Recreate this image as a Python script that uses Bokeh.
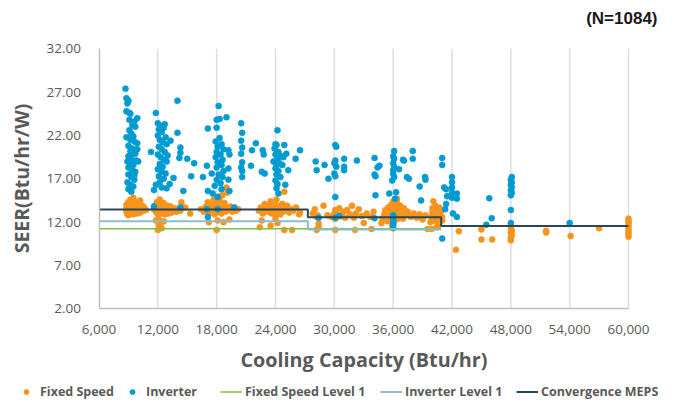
from bokeh.plotting import figure
from bokeh.models import (Legend, LegendItem, Label, LinearAxis, Grid, FixedTicker,
                          NumeralTickFormatter, PrintfTickFormatter, Range1d)
from bokeh.embed import file_html
from bokeh.resources import INLINE

FONT = "Open Sans"
TEXT = "#595959"
ORANGE = "#F7941D"
BLUE = "#009BD2"

x_ticks = [6000, 12000, 18000, 24000, 30000, 36000, 42000, 48000, 54000, 60000]
y_ticks = [2, 7, 12, 17, 22, 27, 32]

# ---- Fixed Speed (capacity Btu/hr, SEER) ----
fixed_9k = [(8800, 13.2), (8800, 13.6), (8800, 14.0), (8900, 12.9), (9000, 13.4), (9000, 13.8), (9000, 14.3),
            (9100, 13.1), (9200, 13.5), (9200, 13.9), (9200, 14.6), (9300, 13.0), (9400, 13.3), (9400, 13.7),
            (9400, 14.1), (9500, 12.9), (9600, 13.5), (9600, 13.9), (9600, 14.4), (9700, 13.2), (9800, 13.6),
            (9800, 14.0), (9900, 13.0), (10000, 13.4), (10000, 13.8), (10100, 14.2), (10200, 13.1), (10300, 13.5),
            (10400, 13.9), (10500, 13.3), (10600, 13.7), (10800, 13.4), (9000, 12.8), (9500, 14.8), (10200, 14.5)]
fixed_12k = [(11600, 13.5), (11700, 13.9), (11800, 13.2), (11900, 14.3), (12000, 12.9), (12000, 13.6), (12000, 14.0),
             (12100, 13.3), (12200, 14.6), (12300, 13.0), (12400, 13.5), (12400, 13.9), (12500, 13.2), (12600, 14.2),
             (12700, 12.9), (12800, 13.6), (12900, 13.3), (13000, 13.9), (13100, 13.0), (13200, 13.5), (13300, 13.8),
             (13400, 13.1), (13500, 13.4), (13700, 13.6), (13900, 13.2), (14100, 13.5), (14300, 13.3), (14400, 14.3),
             (14800, 13.7), (15300, 13.0), (12100, 12.3), (12300, 11.9), (12100, 11.6), (12400, 11.3), (12000, 11.1),
             (12600, 12.1), (11800, 12.2)]
fixed_18k = [(16400, 13.5), (16700, 13.2), (16900, 13.8), (17100, 14.3), (17200, 13.0), (17400, 13.6), (17500, 14.0),
             (17600, 13.3), (17700, 14.6), (17800, 12.9), (17900, 13.7), (18000, 13.1), (18000, 13.5), (18000, 14.2),
             (18100, 13.9), (18200, 13.3), (18300, 14.5), (18400, 13.6), (18500, 13.0), (18600, 13.9), (18700, 13.4),
             (18800, 14.2), (18900, 13.2), (19000, 13.7), (19200, 13.4), (19400, 13.8), (19600, 13.2), (19800, 13.6),
             (20000, 13.3), (20200, 13.5), (19000, 16.0), (18600, 15.1), (19100, 15.4), (18300, 15.0), (17200, 12.0),
             (18100, 12.2), (18700, 12.0), (18000, 11.1), (19300, 12.3)]
fixed_24k = [(22300, 13.3), (22500, 13.7), (22700, 13.0), (22900, 14.1), (23000, 13.5), (23200, 13.2), (23400, 13.9),
             (23500, 14.4), (23600, 13.0), (23800, 13.6), (23900, 13.3), (24000, 12.8), (24000, 13.5), (24000, 14.0),
             (24100, 14.6), (24200, 13.2), (24300, 13.8), (24400, 13.4), (24500, 12.9), (24600, 13.6), (24700, 14.1),
             (24800, 13.2), (24900, 13.7), (25000, 13.4), (25200, 13.9), (25400, 13.1), (25600, 13.5), (25800, 13.3),
             (26100, 13.7), (26500, 13.1), (24900, 15.5), (22600, 12.2), (23500, 11.6), (22400, 11.4), (24900, 11.1),
             (25700, 11.1), (24000, 12.4), (24200, 11.9), (26400, 12.9)]
fixed_30k = [(27800, 13.0), (28000, 13.5), (28200, 12.6), (28300, 12.8), (28400, 11.8), (28400, 11.4), (28900, 13.9),
             (29300, 12.8), (29700, 12.6), (30000, 13.0), (30100, 13.4), (30100, 12.4), (30300, 12.9), (30500, 13.6),
             (30700, 12.7), (30900, 13.2), (31100, 12.5), (31300, 13.4), (31600, 12.9), (31800, 13.9), (32000, 12.5),
             (32200, 13.0), (32500, 13.5), (32800, 12.7), (33000, 11.9), (33300, 13.0), (33700, 12.6), (34000, 13.2),
             (30100, 11.1), (32100, 11.1), (28200, 11.1)]
fixed_36k = [(34900, 12.4), (35100, 12.9), (35200, 13.4), (35400, 12.1), (35500, 13.7), (35600, 12.6), (35700, 13.1),
             (35800, 14.0), (35900, 12.3), (36000, 12.8), (36000, 13.3), (36000, 13.8), (36000, 14.4), (36100, 12.0),
             (36200, 12.6), (36200, 13.1), (36300, 13.6), (36400, 14.2), (36500, 12.4), (36500, 12.9), (36600, 13.4),
             (36700, 13.9), (36800, 12.7), (36900, 13.2), (37000, 12.4), (37100, 13.6), (37300, 12.9), (36400, 14.7),
             (37500, 13.2), (37800, 12.6), (38100, 13.0), (38400, 12.5), (38700, 12.9), (39000, 12.3), (39300, 12.8),
             (39500, 11.2), (34800, 11.9), (35900, 11.6), (33800, 11.2)]
fixed_40k = [(39800, 12.0), (39900, 12.6), (40000, 13.1), (40000, 13.6), (40100, 12.3), (40200, 12.9), (40300, 13.4),
             (40300, 13.9), (40400, 12.1), (40500, 12.7), (40500, 13.2), (40600, 11.6), (40700, 12.4), (40700, 13.7),
             (40800, 12.9), (40900, 13.3), (41000, 12.2), (41000, 12.6), (40100, 14.4), (40400, 11.4), (39900, 11.2)]
fixed_big = [(42400, 8.8), (42700, 10.95), (45000, 11.15), (45000, 10.0), (46100, 10.0), (48000, 11.6), (48000, 11.3),
             (48100, 11.0), (48000, 10.8), (48100, 10.5), (48000, 10.2), (48000, 9.9), (51600, 11.0), (51600, 10.8),
             (54100, 10.4), (57000, 11.3), (60000, 12.4), (60000, 12.1), (60000, 11.8), (60000, 11.5), (60000, 11.2),
             (60000, 10.9), (60000, 10.6), (60000, 10.3)]

# ---- Inverter ----
inv_9k = [(8700, 27.4), (8800, 26.3), (9000, 26.0), (8900, 25.7), (8800, 24.8), (9100, 24.6), (9200, 24.5),
          (9900, 24.0), (9600, 23.6), (9400, 23.2), (9700, 23.0), (9100, 22.6), (9300, 22.2), (9500, 21.9),
          (9200, 21.5), (9600, 21.3), (9900, 21.1), (9000, 20.8), (9400, 20.5), (9200, 20.2), (9700, 19.9),
          (9000, 19.6), (9300, 19.3), (9800, 19.1), (9100, 18.9), (9500, 18.6), (9000, 18.3), (9400, 18.0),
          (9700, 17.8), (9000, 17.5), (9300, 17.2), (9600, 16.9), (8900, 16.6), (9200, 16.3), (9500, 16.1),
          (9000, 15.8), (9300, 15.5), (10000, 19.0), (9900, 20.4), (8800, 21.8), (9100, 23.8), (9500, 20.0),
          (8900, 19.0), (9600, 17.4), (9100, 16.0)]
inv_12k = [(11800, 24.6), (12000, 23.4), (12300, 23.1), (12100, 22.7), (12600, 22.9), (12400, 22.4), (12000, 22.0),
           (12800, 21.8), (12200, 21.5), (12500, 21.2), (12900, 21.0), (12100, 20.7), (12400, 20.4), (12700, 20.1),
           (11300, 20.1), (12000, 19.8), (12300, 19.5), (12600, 19.2), (12900, 19.0), (12200, 18.7), (12500, 18.4),
           (12000, 18.1), (12400, 17.8), (12800, 17.6), (12100, 17.3), (12600, 17.0), (12200, 16.6), (11800, 16.3),
           (12400, 16.0), (11600, 15.7), (12900, 15.9), (13200, 16.4), (13600, 17.1), (14000, 26.0), (14000, 22.3),
           (14300, 20.6), (14300, 20.0), (14200, 19.4), (15000, 19.3), (15700, 18.8), (15400, 17.3), (14600, 15.6),
           (11600, 13.8), (14300, 13.7), (13000, 19.7), (13300, 21.4), (12700, 23.3)]
inv_18k = [(18200, 25.4), (19000, 24.1), (18000, 23.8), (18300, 23.9), (17100, 22.8), (18000, 22.9), (18300, 21.7),
           (17900, 21.3), (18500, 21.0), (18100, 20.7), (18700, 20.4), (19200, 20.3), (18000, 20.1), (18400, 19.8),
           (19300, 19.8), (17900, 19.5), (18600, 19.2), (18100, 18.9), (17000, 18.5), (18500, 18.6), (19200, 18.2),
           (18000, 18.3), (18700, 17.9), (16600, 17.2), (17500, 17.6), (18200, 17.5), (18600, 17.2), (18000, 16.9),
           (19200, 16.9), (18400, 16.5), (17800, 16.2), (17100, 15.6), (17600, 15.3), (18500, 15.8), (19300, 15.6),
           (18100, 14.9), (17000, 13.5), (17100, 12.6), (18100, 13.5), (19800, 13.7), (20600, 17.2)]
inv_21k = [(20500, 23.4), (20600, 22.3), (20500, 21.4), (20600, 20.6), (20500, 19.9), (20600, 18.9), (20500, 18.3),
           (20600, 17.9), (21600, 20.3), (22000, 21.1), (21500, 18.5), (22700, 20.3), (22800, 19.8), (22600, 17.8),
           (22900, 17.6)]
inv_24k = [(24200, 22.6), (24000, 21.0), (24100, 20.9), (23900, 20.5), (24300, 20.1), (24000, 19.8), (24600, 19.6),
           (24200, 19.3), (24800, 19.5), (23800, 19.0), (24400, 18.8), (24100, 18.5), (24700, 18.6), (24000, 18.2),
           (24300, 17.9), (25300, 18.0), (24100, 17.5), (24500, 17.2), (24000, 16.8), (24200, 16.4), (25000, 16.3),
           (24100, 15.9), (24300, 15.3), (26500, 20.3), (26050, 19.3), (24900, 20.9), (25100, 19.9)]
inv_30k = [(28100, 19.0), (28200, 18.0), (29000, 18.6), (29400, 17.0), (30100, 20.9), (30200, 20.7), (30100, 19.1),
           (30000, 18.8), (30200, 18.4), (30100, 17.3), (30000, 17.6), (31000, 19.3), (31000, 18.4), (31000, 18.0),
           (32300, 19.1), (30100, 14.9), (28400, 12.5), (30100, 12.5), (30500, 12.7)]
inv_36k = [(34100, 19.4), (34400, 18.3), (34600, 18.5), (34100, 17.5), (34200, 17.3), (34200, 15.1), (34100, 12.45),
           (36100, 20.2), (36000, 19.6), (36100, 19.3), (36000, 18.8), (36100, 18.4), (36000, 18.0), (36000, 17.6),
           (36100, 17.2), (35900, 16.8), (36600, 18.1), (37000, 19.2), (37100, 19.1), (37400, 17.2), (37600, 17.0),
           (38000, 20.2), (38000, 19.3), (39250, 17.2), (39300, 16.9), (35600, 15.3), (36300, 15.45), (36200, 14.7),
           (36000, 12.8), (36000, 12.5), (36000, 12.2), (36000, 11.9), (36000, 11.6), (36000, 11.3), (38700, 16.1),
           (38850, 14.5)]
inv_42k = [(41000, 19.4), (41000, 18.6), (41200, 16.0), (41400, 15.8), (41500, 15.0), (41400, 14.1), (42000, 17.2),
           (42000, 16.6), (42000, 16.0), (42000, 15.4), (42000, 14.8), (41000, 10.1), (41300, 13.5), (42100, 13.0)]
inv_big = [(42500, 15.3), (42500, 14.7), (42500, 12.6), (45800, 14.75), (46050, 12.45), (45500, 11.7), (48100, 17.2),
           (48000, 16.9), (48100, 16.6), (48000, 16.3), (48100, 16.0), (48000, 15.7), (48100, 15.4), (48000, 15.1),
           (48000, 13.4), (48000, 11.9), (54000, 11.9)]

# ---- Threshold step lines ----
meps_x = [6000, 27300, 40900, 60000]
meps_y = [13.45, 12.55, 11.55, 11.55]
inv_lvl_x = [6000, 27300, 40900]
inv_lvl_y = [12.1, 11.15, 11.15]
fix_lvl_x = [6000, 40900]
fix_lvl_y = [11.25, 11.25]

fixed_pts = fixed_9k + fixed_12k + fixed_18k + fixed_24k + fixed_30k + fixed_36k + fixed_40k + fixed_big
inv_pts = inv_9k + inv_12k + inv_18k + inv_21k + inv_24k + inv_30k + inv_36k + inv_42k + inv_big

# ---- layout: the frame covers the whole canvas; the axes sit at fixed data locations ----
W, H = 659, 400
PL, PR, PT, PB = 98.5, 628.0, 48.3, 308.3      # plot-area edges in canvas pixels
X0, X1 = x_ticks[0], x_ticks[-1]
Y0, Y1 = y_ticks[0], y_ticks[-1]
kx = (PR - PL) / (X1 - X0)
ky = (PB - PT) / (Y1 - Y0)
x_range = Range1d(X0 - PL / kx, X1 + (W - PR) / kx)
y_range = Range1d(Y0 - (H - PB) / ky, Y1 + PT / ky)

p = figure(width=W, height=H, output_backend="svg", toolbar_location=None,
           x_range=x_range, y_range=y_range, x_axis_location=None, y_axis_location=None,
           min_border=0, min_border_left=0, min_border_right=0, min_border_top=0, min_border_bottom=0)
p.outline_line_color = None
p.center = [c for c in p.center if not isinstance(c, Grid)]

# vertical gridlines
p.segment(x0=x_ticks[1:], y0=[Y0] * (len(x_ticks) - 1), x1=x_ticks[1:], y1=[Y1] * (len(x_ticks) - 1),
          line_color="#DDDDDD", line_width=1.5)

xaxis = LinearAxis(fixed_location=Y0, bounds=(X0, X1), ticker=FixedTicker(ticks=x_ticks),
                   formatter=NumeralTickFormatter(format="0,0"), axis_label="Cooling Capacity (Btu/hr)")
yaxis = LinearAxis(fixed_location=X0, bounds=(Y0, Y1), ticker=FixedTicker(ticks=y_ticks),
                   formatter=PrintfTickFormatter(format="%.2f"), axis_label="SEER(Btu/hr/W)")
for ax in (xaxis, yaxis):
    ax.axis_line_color = "#BFBFBF"
    ax.axis_line_width = 1.5
    ax.major_tick_line_color = None
    ax.minor_tick_line_color = None
    ax.major_tick_out = 0
    ax.major_tick_in = 0
    ax.major_label_text_font = FONT
    ax.major_label_text_font_size = "13.5px"
    ax.major_label_text_color = TEXT
    ax.axis_label_text_font = FONT
    ax.axis_label_text_font_style = "bold"
    ax.axis_label_text_color = TEXT
xaxis.axis_label_text_font_size = "19.8px"
yaxis.axis_label_text_font_size = "19.5px"
xaxis.major_label_standoff = 16
yaxis.major_label_standoff = 18
xaxis.axis_label_standoff = 9
yaxis.axis_label_standoff = 9
p.add_layout(xaxis, "below")
p.add_layout(yaxis, "left")

r_fix = p.scatter([q[0] for q in fixed_pts], [q[1] for q in fixed_pts], size=6,
                  fill_color=ORANGE, line_color=ORANGE, line_width=0.6)
r_inv = p.scatter([q[0] for q in inv_pts], [q[1] for q in inv_pts], size=6,
                  fill_color=BLUE, line_color=BLUE, line_width=0.6)
r_fl = p.step(fix_lvl_x, fix_lvl_y, mode="after", line_color="#7AC143", line_width=1.5)
r_il = p.step(inv_lvl_x, inv_lvl_y, mode="after", line_color="#8FBCCB", line_width=2)
r_mp = p.step(meps_x, meps_y, mode="after", line_color="#2A4658", line_width=2)

legend_specs = [("Fixed Speed", r_fix, 15), ("Inverter", r_inv, 121),
                ("Fixed Speed Level 1", r_fl, 220), ("Inverter Level 1", r_il, 380),
                ("Convergence MEPS", r_mp, 516)]
for lab, rend, lx in legend_specs:
    leg = Legend(items=[LegendItem(label=lab, renderers=[rend])], location=(lx, 0),
                 orientation="horizontal", padding=0, margin=0, spacing=0,
                 glyph_width=22, glyph_height=13, label_height=13, label_standoff=3,
                 background_fill_alpha=0, border_line_color=None,
                 label_text_font=FONT, label_text_font_style="bold",
                 label_text_font_size="12.5px", label_text_color=TEXT)
    p.add_layout(leg)

p.add_layout(Label(x=657, y=H - 18, x_units="screen", y_units="screen", text="(N=1084)",
                   text_align="right", text_baseline="middle", text_font="Liberation Sans",
                   text_font_style="bold", text_font_size="17px", text_color="#1A1A1A"))

open("out.html", "w").write(file_html(p, INLINE))
